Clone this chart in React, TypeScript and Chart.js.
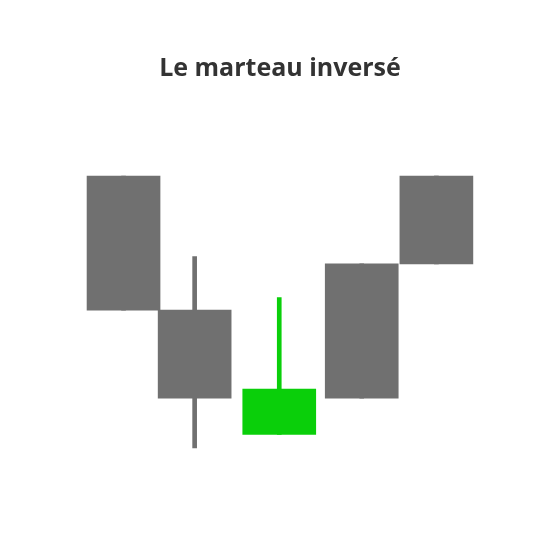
import React, { useEffect, useRef } from 'react';
import Chart from 'chart.js/auto';

const sessions = [1, 2, 3.19, 4.35, 5.4];
const opens = [40, 25.2, 11.5, 15.5, 30.3];
const closes = [25.2, 15.5, 16.5, 30.3, 40];
const highs = [40, 31.1, 26.6, 30.3, 40];
const lows = [25.2, 10, 11.5, 15.5, 30.3];
const highlighted = [false, false, true, false, false];
const title = 'Le marteau inversé';

const GREY = '#707070';
const GREEN = '#0acf0a';

const App: React.FC = () => {
  const chartRef = useRef<HTMLCanvasElement>(null);
  const chartInstance = useRef<Chart | null>(null);

  useEffect(() => {
    if (!chartRef.current) return;
    if (chartInstance.current) chartInstance.current.destroy();
    const ctx = chartRef.current.getContext('2d');
    if (!ctx) return;

    const colors = highlighted.map(h => (h ? GREEN : GREY));

    chartInstance.current = new Chart(ctx, {
      type: 'bar',
      data: {
        datasets: [
          {
            label: 'wick',
            data: sessions.map((x, i) => ({ x, y: [lows[i], highs[i]] })) as any,
            backgroundColor: colors,
            barThickness: 4,
            grouped: false,
            order: 2,
          },
          {
            label: 'body',
            data: sessions.map((x, i) => ({ x, y: [opens[i], closes[i]] })) as any,
            backgroundColor: colors,
            barThickness: 73,
            grouped: false,
            order: 1,
          },
        ],
      },
      options: {
        animation: false,
        responsive: false,
        layout: { padding: 0 },
        plugins: { legend: { display: false }, tooltip: { enabled: false } },
        scales: {
          x: { type: 'linear', display: false, min: -0.175, max: 6.576 },
          y: { display: false, min: -2.35, max: 59.41 },
        },
      },
    });

    return () => {
      if (chartInstance.current) chartInstance.current.destroy();
    };
  }, []);

  return (
    <div style={{ position: 'fixed', left: 0, top: 0, width: 560, height: 560, background: '#fff' }}>
      <canvas ref={chartRef} width={560} height={560} style={{ position: 'absolute', left: 0, top: 0 }} />
      <div
        style={{
          position: 'absolute',
          top: 49,
          width: 560,
          textAlign: 'center',
          fontFamily: '"Open Sans", sans-serif',
          fontWeight: 700,
          fontSize: 25,
          color: '#333',
        }}
      >
        {title}
      </div>
    </div>
  );
};

export default App;
